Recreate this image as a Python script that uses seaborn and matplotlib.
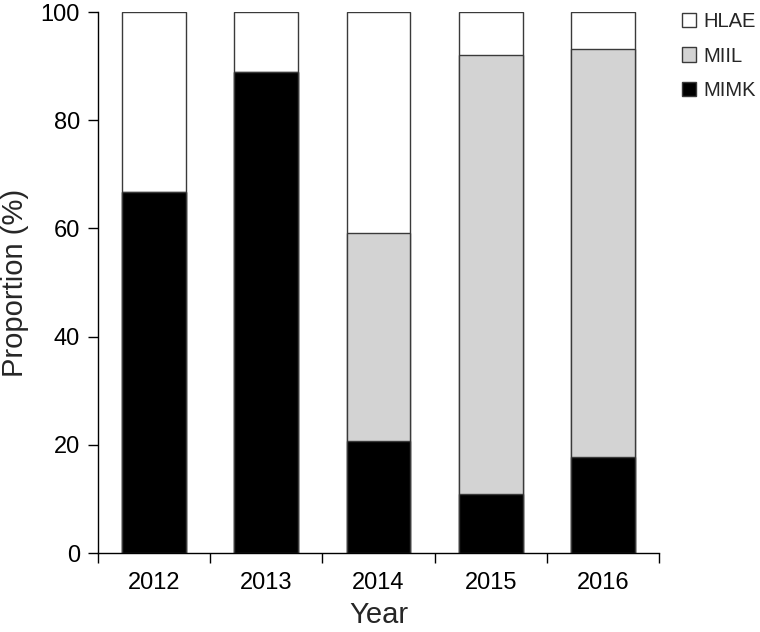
import matplotlib
matplotlib.use("Agg")
import matplotlib.pyplot as plt
import seaborn as sns
import pandas as pd
import numpy as np
from matplotlib.patches import Patch

years = ["2012", "2013", "2014", "2015", "2016"]
mimk = [66.7, 88.9, 20.7, 10.9, 17.7]
miil = [0.0, 0.0, 38.5, 81.1, 75.4]
hlae = [33.3, 11.1, 40.8, 8.0, 6.9]

sns.set_theme(style="ticks")
plt.rcParams['font.family'] = ['Liberation Sans', 'DejaVu Sans']

df = pd.DataFrame({"Year": years, "MIMK": mimk, "MIIL": miil, "HLAE": hlae})
df["c2"] = df["MIMK"] + df["MIIL"]
df["c3"] = df["c2"] + df["HLAE"]

fig = plt.figure(figsize=(7.6, 6.32), dpi=100)
ax = fig.add_axes([0.129, 0.125, 0.738, 0.856])

w = 0.57
ec = "#3a3a3a"
sns.barplot(data=df, x="Year", y="c3", color="white", edgecolor=ec, linewidth=1.0, width=w, ax=ax, saturation=1)
sns.barplot(data=df, x="Year", y="c2", color="#d3d3d3", edgecolor=ec, linewidth=1.0, width=w, ax=ax, saturation=1)
sns.barplot(data=df, x="Year", y="MIMK", color="black", edgecolor=ec, linewidth=1.0, width=w, ax=ax, saturation=1)

ax.set_xlim(-0.5, 4.5)
ax.set_ylim(0, 100)
ax.set_yticks([0, 20, 40, 60, 80, 100])
ax.set_xticks(range(5))
ax.set_xticklabels(years)
ax.set_xticks(np.arange(-0.5, 5.0, 1.0), minor=True)
ax.tick_params(axis="x", which="major", length=0, labelsize=17, pad=14, colors="black")
ax.tick_params(axis="x", which="minor", length=7, width=1, color="black", direction="out")
ax.tick_params(axis="y", length=7, width=1, labelsize=17, colors="black", direction="out", pad=6)
for s in ["top", "right"]:
    ax.spines[s].set_visible(False)
for s in ["left", "bottom"]:
    ax.spines[s].set_color("black")
    ax.spines[s].set_linewidth(1)

ax.set_xlabel("Year", fontsize=21, labelpad=5)
ax.set_ylabel("Proportion (%)", fontsize=21, labelpad=8)

handles = [Patch(facecolor="white", edgecolor=ec, label="HLAE"),
           Patch(facecolor="#d3d3d3", edgecolor=ec, label="MIIL"),
           Patch(facecolor="black", edgecolor=ec, label="MIMK")]
leg = fig.legend(handles=handles, loc="upper left", bbox_to_anchor=(0.873, 1.009),
                 frameon=False, fontsize=14.5, handlelength=0.7, handleheight=0.7,
                 handletextpad=0.4, labelspacing=0.75)

fig.savefig("out.png", dpi=100)
